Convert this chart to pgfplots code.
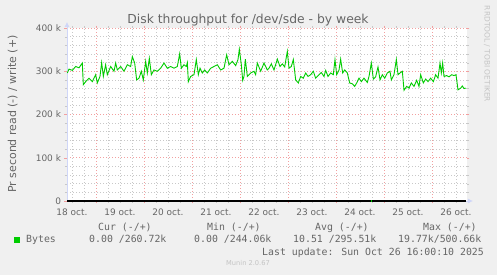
\documentclass[border=0pt]{standalone}
\usepackage{pgfplots}
\pgfplotsset{compat=1.18}
\usepackage{fontspec}
\setmainfont{DejaVu Sans}
\newfontfamily\monofont{DejaVu Sans Mono}
\usetikzlibrary{arrows.meta}
\definecolor{bgc}{HTML}{F0F0F0}
\definecolor{fontc}{HTML}{666666}
\definecolor{axisc}{HTML}{CFD6F8}
\definecolor{mgridc}{HTML}{F2A0A0}
\definecolor{gridc}{HTML}{C8C8C8}
\definecolor{lineg}{HTML}{00CC00}
\definecolor{wmark}{HTML}{C4C4C4}
\begin{document}
\begin{tikzpicture}
\fill[bgc] (0,0) rectangle (497bp,275bp);
\useasboundingbox (0,0) rectangle (497bp,275bp);
\begin{axis}[
  at={(67bp,74bp)}, anchor=south west,
  scale only axis, width=400bp, height=173bp,
  xmin=0.396, xmax=8.729, ymin=0, ymax=400,
  axis line style={draw=none},
  axis background/.style={fill=white},
  clip=false,
  xtick={1,2,3,4,5,6,7,8}, xticklabels={},
  minor xtick={0.5,0.75,1.25,1.5,1.75,2.25,2.5,2.75,3.25,3.5,3.75,4.25,4.5,4.75,5.25,5.5,5.75,6.25,6.5,6.75,7.25,7.5,7.75,8.25,8.5},
  extra x ticks={0.5,1.5,2.5,3.5,4.5,5.5,6.5,7.5,8.5},
  extra x tick labels={18 oct.,19 oct.,20 oct.,21 oct.,22 oct.,23 oct.,24 oct.,25 oct.,26 oct.},
  extra x tick style={grid=none, major tick length=0pt, tick label style={yshift=-4.5bp}},
  ytick={0,100,200,300,400},
  yticklabels={0,100 k,200 k,300 k,400 k},
  minor ytick={20,40,60,80,120,140,160,180,220,240,260,280,320,340,360,380},
  grid=both,
  major grid style={mgridc, line width=0.7bp, dash pattern=on 1bp off 2bp},
  minor grid style={gridc, line width=0.7bp, dash pattern=on 1bp off 2bp},
  tick align=outside,
  major tick length=2.5bp, minor tick length=2bp,
  every major tick/.style={mgridc, solid},
  every minor tick/.style={gridc, solid},
  tick label style={font=\fontsize{9}{10}\selectfont, text=fontc},
]
\draw[axisc, line width=0.8bp, -{Latex[length=5bp,width=5bp]}] (axis cs:0.396,-1) -- (axis cs:0.396,414);
\draw[axisc, line width=0.8bp, -{Latex[length=5bp,width=5bp]}] (axis cs:0.396,0) -- (axis cs:8.854,0);
\addplot[black, line width=1.3bp] coordinates {(0.403,0) (8.701,0)};
\addplot[lineg, line width=1.3bp] coordinates {(6.72,0) (6.75,0)};
\addplot[lineg, line width=0.9bp] coordinates {
(0.403,296) (0.4375,305) (0.507,302) (0.576,311) (0.646,308) (0.715,319) (0.736,269) (0.785,276) (0.854,284) (0.924,276)
(0.993,292) (1.028,273) (1.083,288) (1.118,320) (1.153,288) (1.201,315) (1.236,292) (1.306,311) (1.375,300) (1.410,319)
(1.444,303) (1.514,311) (1.583,300) (1.653,315) (1.722,311) (1.757,334) (1.806,319) (1.847,280) (1.896,284) (1.944,300)
(1.986,280) (2.035,323) (2.069,296) (2.111,330) (2.153,292) (2.208,303) (2.278,300) (2.347,307) (2.417,319) (2.486,307)
(2.556,311) (2.625,307) (2.694,311) (2.743,340) (2.778,307) (2.833,315) (2.882,311) (2.903,320) (2.924,276) (2.972,288)
(3.042,292) (3.090,327) (3.132,292) (3.167,307) (3.215,296) (3.264,303) (3.319,296) (3.389,307) (3.458,311) (3.528,315)
(3.597,303) (3.667,307) (3.722,338) (3.771,315) (3.840,323) (3.910,313) (3.958,327) (3.986,351) (4.028,315) (4.056,279)
(4.083,288) (4.111,328) (4.153,288) (4.222,296) (4.292,300) (4.326,292) (4.361,319) (4.431,300) (4.500,319) (4.569,303)
(4.604,307) (4.653,317) (4.708,303) (4.778,328) (4.833,311) (4.882,317) (4.931,310) (4.986,346) (5.021,307) (5.069,311)
(5.111,327) (5.160,280) (5.215,273) (5.264,288) (5.319,284) (5.368,296) (5.417,288) (5.472,292) (5.528,300) (5.576,284)
(5.646,292) (5.694,297) (5.750,288) (5.785,302) (5.833,288) (5.889,296) (5.944,292) (5.979,327) (6.014,292) (6.063,303)
(6.097,328) (6.139,296) (6.181,303) (6.236,296) (6.285,273) (6.340,271) (6.389,265) (6.431,273) (6.479,284) (6.528,276)
(6.583,284) (6.653,274) (6.6875,288) (6.736,319) (6.778,282) (6.826,287) (6.875,310) (6.917,280) (6.965,292) (7.014,284)
(7.069,296) (7.125,300) (7.153,280) (7.208,292) (7.257,327) (7.292,292) (7.333,296) (7.382,300) (7.417,256) (7.472,265)
(7.521,261) (7.569,273) (7.625,265) (7.681,279) (7.729,265) (7.764,292) (7.819,273) (7.868,282) (7.917,276) (7.972,284)
(8.028,276) (8.076,292) (8.125,284) (8.167,319) (8.194,296) (8.222,319) (8.250,288) (8.306,290) (8.354,287) (8.410,292)
(8.458,290) (8.500,292) (8.542,257) (8.597,261) (8.632,266) (8.667,260) (8.701,261)
};
\end{axis}
\node[text=fontc, font=\fontsize{12.4}{14}\selectfont, anchor=base, inner sep=0pt] at (248bp,251bp) {Disk throughput for /dev/sde - by week};
\node[text=fontc, font=\fontsize{11}{12}\selectfont, anchor=base, rotate=90, inner sep=0pt] at (16bp,161bp) {Pr second read (-) / write (+)};
\node[text=wmark, font=\fontsize{7.5}{8}\selectfont, rotate=-90, inner sep=0pt] at (487bp,221bp) {RRDTOOL / TOBI OETIKER};
\begin{scope}[every node/.style={text=fontc, font=\monofont\fontsize{9.9}{11}\selectfont, anchor=base west, inner sep=0pt}]
\node at (98bp,44.5bp) {Cur (-/+)};
\node at (207bp,44.5bp) {Min (-/+)};
\node at (315bp,44.5bp) {Avg (-/+)};
\node at (423bp,44.5bp) {Max (-/+)};
\node at (26bp,32.3bp) {Bytes};
\node at (89bp,32.3bp) {0.00 /260.72k};
\node at (194bp,32.3bp) {0.00 /244.06k};
\node at (293bp,32.3bp) {10.51 /295.51k};
\node at (398bp,32.3bp) {19.77k/500.66k};
\node at (262bp,20bp) {Last update: Sun Oct 26 16:00:10 2025};
\end{scope}
\fill[lineg] (14bp,32.3bp) rectangle (20bp,37.7bp);
\node[text=wmark, font=\fontsize{6.7}{8}\selectfont, anchor=base, inner sep=0pt] at (248bp,9.3bp) {Munin 2.0.67};
\end{tikzpicture}
\end{document}
